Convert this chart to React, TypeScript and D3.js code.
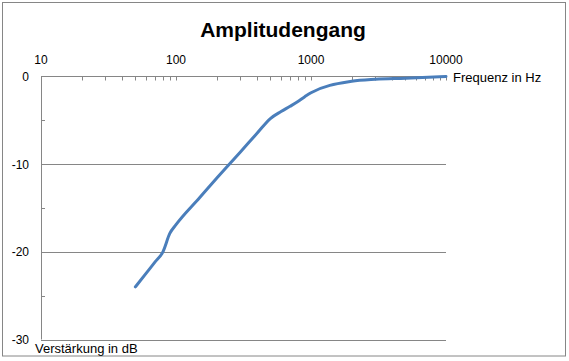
import React from 'react';
import * as d3 from 'd3';

// frequency response (Hz -> dB)
const freqs = [50, 60, 70, 80, 90, 100, 150, 200, 300, 400, 500, 600, 700, 800, 900, 1000, 2000, 3000, 5000, 10000];
const gains = [-24, -22.45, -21.15, -20, -17.9, -16.9, -13.8, -11.6, -8.6, -6.45, -4.8, -4.0, -3.4, -2.85, -2.3, -1.85, -0.55, -0.32, -0.2, 0];

const xTickLabels = [10, 100, 1000, 10000];
const yTickLabels = [0, -10, -20, -30];
const yMinorTicks = [-5, -15, -25];

const W = 569;
const H = 361;
const FONT = '"Liberation Sans", Arial, sans-serif';
const AXIS = '#868686';

export default function App() {
  const x = d3.scaleLog().domain([10, 10000]).range([41, 446]);
  const y = d3.scaleLinear().domain([0, -30]).range([76.5, 339.5]);

  const pts = freqs.map((f, i) => [f, gains[i]] as [number, number]);
  const line = d3.line<[number, number]>()
    .x(d => x(d[0]))
    .y(d => y(d[1]))
    .curve(d3.curveMonotoneX);

  // minor ticks 10..10000 at each 1..9 multiple
  const xMinor: number[] = [];
  for (let dec = 10; dec < 10000; dec *= 10) {
    for (let k = 1; k <= 9; k++) xMinor.push(dec * k);
  }
  xMinor.push(10000);

  return (
    <svg width={W} height={H} style={{ position: 'absolute', left: 0, top: 0 }}>
      <rect x={2.5} y={2.5} width={563} height={353.5} fill="white" stroke={AXIS} strokeWidth={1} />

      <text x={283} y={37} textAnchor="middle" fontFamily={FONT} fontWeight="bold" fontSize={21} fill="#000">
        Amplitudengang
      </text>

      {/* gridlines */}
      {yTickLabels.filter(v => v !== 0).map(v => (
        <line key={'g' + v} x1={x(10)} x2={x(10000)} y1={Math.round(y(v)) + 0.5} y2={Math.round(y(v)) + 0.5} stroke={AXIS} strokeWidth={1} />
      ))}

      {/* y axis */}
      <line x1={41.5} x2={41.5} y1={y(0)} y2={y(-30)} stroke={AXIS} />
      {yMinorTicks.map(v => (
        <line key={'ym' + v} x1={41} x2={45} y1={Math.round(y(v)) + 0.5} y2={Math.round(y(v)) + 0.5} stroke={AXIS} />
      ))}
      {yTickLabels.map(v => (
        <text key={'yl' + v} x={29} y={y(v) + 4.5} textAnchor="end" fontFamily={FONT} fontSize={12} fill="#000">
          {v}
        </text>
      ))}

      {/* x axis at top */}
      <line x1={x(10)} x2={x(10000)} y1={76.5} y2={76.5} stroke={AXIS} />
      {xMinor.map(f => (
        <line key={'xm' + f} x1={Math.round(x(f)) + 0.5} x2={Math.round(x(f)) + 0.5} y1={76.5} y2={80.5} stroke={AXIS} />
      ))}
      {xTickLabels.map(f => (
        <text key={'xl' + f} x={x(f)} y={64} textAnchor="middle" fontFamily={FONT} fontSize={12} fill="#000">
          {f}
        </text>
      ))}

      <path d={line(pts) || ''} fill="none" stroke="#4a7ebb" strokeWidth={3} strokeLinecap="round" strokeLinejoin="round" />

      <text x={453} y={82} fontFamily={FONT} fontSize={13} fill="#000">Frequenz in Hz</text>
      <text x={35} y={353} fontFamily={FONT} fontSize={13} fill="#000">Verstärkung in dB</text>
    </svg>
  );
}
